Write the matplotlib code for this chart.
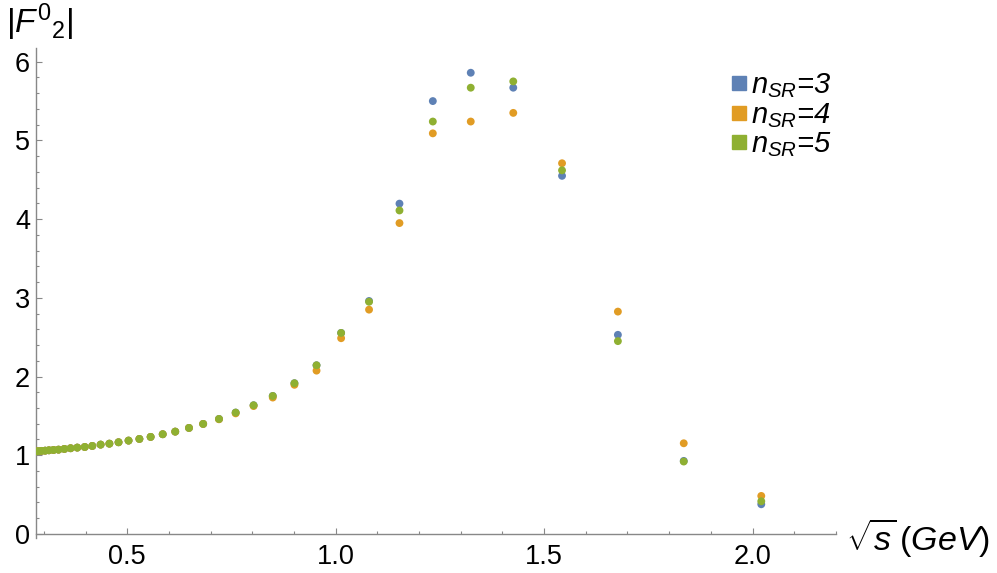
import matplotlib
matplotlib.use("Agg")
import matplotlib.pyplot as plt
from matplotlib.lines import Line2D
from matplotlib.ticker import MultipleLocator

plt.rcParams['font.family'] = ['Liberation Sans', 'DejaVu Sans']
plt.rcParams['mathtext.fontset'] = 'custom'
plt.rcParams['mathtext.it'] = 'Liberation Sans:italic'
plt.rcParams['mathtext.rm'] = 'Liberation Sans'
plt.rcParams['mathtext.default'] = 'it'

# sqrt(s) in GeV
sqrt_s = [0.281, 0.2865, 0.294, 0.303, 0.312, 0.323, 0.335, 0.349, 0.364, 0.380,
          0.398, 0.416, 0.436, 0.457, 0.479, 0.503, 0.529, 0.556, 0.585, 0.615,
          0.648, 0.682, 0.720, 0.760, 0.803, 0.849, 0.901, 0.954, 1.013, 1.080,
          1.153, 1.233, 1.324, 1.426, 1.543, 1.677, 1.835, 2.021]

# |F^0_2| for n_SR = 3, 4, 5
f_n3 = [1.050, 1.051, 1.055, 1.058, 1.063, 1.067, 1.071, 1.080, 1.089, 1.097,
        1.105, 1.118, 1.135, 1.147, 1.165, 1.186, 1.207, 1.233, 1.267, 1.300,
        1.347, 1.398, 1.461, 1.542, 1.635, 1.753, 1.915, 2.143, 2.554, 2.96,
        4.197, 5.50, 5.86, 5.67, 4.55, 2.53, 0.928, 0.377]
f_n4 = [1.050, 1.051, 1.055, 1.058, 1.063, 1.067, 1.071, 1.080, 1.089, 1.097,
        1.105, 1.118, 1.135, 1.147, 1.165, 1.186, 1.207, 1.233, 1.267, 1.300,
        1.347, 1.398, 1.457, 1.532, 1.625, 1.733, 1.895, 2.075, 2.487, 2.85,
        3.95, 5.09, 5.24, 5.35, 4.71, 2.825, 1.152, 0.483]
f_n5 = [1.050, 1.051, 1.055, 1.058, 1.063, 1.067, 1.071, 1.080, 1.089, 1.097,
        1.105, 1.118, 1.135, 1.147, 1.165, 1.186, 1.207, 1.233, 1.267, 1.300,
        1.347, 1.398, 1.461, 1.542, 1.635, 1.753, 1.915, 2.143, 2.554, 2.95,
        4.11, 5.24, 5.67, 5.75, 4.62, 2.45, 0.92, 0.415]

labels = ['$n_{SR}$=3', '$n_{SR}$=4', '$n_{SR}$=5']
colors = ['#5E81B5', '#E19C24', '#8FB032']

fig = plt.figure(figsize=(9.97, 5.73), dpi=100)
ax = fig.add_axes([0.0357, 0.0613, 0.8027, 0.8557])

for ys, c in zip([f_n3, f_n4, f_n5], colors):
    ax.scatter(sqrt_s, ys, s=32, color=c, edgecolors='none', zorder=3)

ax.set_xlim(0.28, 2.2)
ax.set_ylim(-0.05, 6.18)

axis_col = '#888888'
ax.spines['top'].set_visible(False)
ax.spines['right'].set_visible(False)
ax.spines['bottom'].set_position(('data', 0))
for sp in ['left', 'bottom']:
    ax.spines[sp].set_color(axis_col)
    ax.spines[sp].set_linewidth(1.0)

ax.xaxis.set_minor_locator(MultipleLocator(0.1))
ax.yaxis.set_major_locator(MultipleLocator(1))
ax.yaxis.set_minor_locator(MultipleLocator(0.2))
ax.set_xticks([0.5, 1.0, 1.5, 2.0])
ax.set_xticklabels(['0.5', '1.0', '1.5', '2.0'])
ax.tick_params(which='both', direction='in', color=axis_col, labelsize=19.5)
ax.tick_params(which='major', length=4.5, width=0.8)
ax.tick_params(which='minor', length=2.5, width=0.8)
ax.tick_params(axis='x', pad=7)
ax.tick_params(axis='y', pad=4)

fig.text(6 / 997, 1 - 22 / 573, r'$|F^{\mathit{0}}{}_{2}|$', fontsize=24,
         ha='left', va='center')
fig.text(846 / 997, 1 - 538 / 573, r'$\sqrt{s}\,(GeV)$', fontsize=24.5,
         ha='left', va='center')

handles = [Line2D([], [], marker='s', linestyle='none', markersize=10,
                  color=c) for c in colors]
ax.legend(handles, labels, loc='upper left',
          bbox_to_anchor=(716 / 997, 1 - 57 / 573),
          bbox_transform=fig.transFigure, frameon=False,
          prop={'size': 21, 'style': 'italic'},
          handlelength=0.55, handletextpad=0.15, labelspacing=0.02,
          borderpad=0)

fig.savefig('out.png', dpi=100)
